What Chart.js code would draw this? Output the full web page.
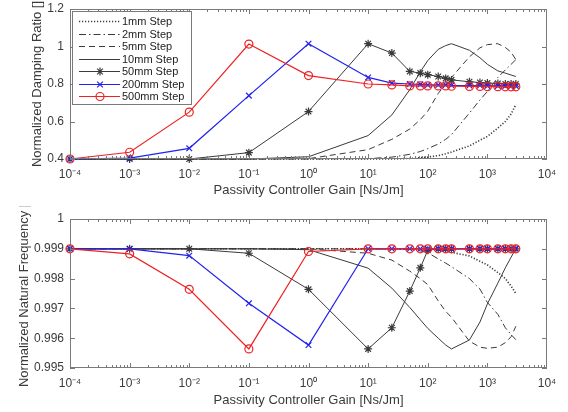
<!DOCTYPE html>
<html>
<head>
<meta charset="utf-8">
<script src="https://cdn.jsdelivr.net/npm/chart.js@4.4.1/dist/chart.umd.min.js"></script>
<style>
  html, body { margin: 0; padding: 0; background: #fff; }
  canvas { display: block; }
</style>
</head>
<body>
<canvas id="dampingChart" width="568" height="206"></canvas>
<canvas id="freqChart" width="568" height="206"></canvas>
<script>
// Controller gain sweep shared by every step size
const gains = [1e-4, 1e-3, 1e-2, 1e-1, 1, 10, 25, 50, 75, 100, 150, 200, 250, 500, 750, 1000, 1500, 2000, 2500, 3000];

const seriesNames = ['1mm Step', '2mm Step', '5mm Step', '10mm Step', '50mm Step', '200mm Step', '500mm Step'];

// Normalized damping ratio per step size
const damp1mm   = [0.40, 0.40, 0.40, 0.40, 0.40, 0.40, 0.40, 0.403, 0.407, 0.41, 0.418, 0.428, 0.437, 0.47, 0.50, 0.52, 0.565, 0.60, 0.64, 0.69];
const damp2mm   = [0.40, 0.40, 0.40, 0.40, 0.40, 0.402, 0.41, 0.425, 0.44, 0.455, 0.48, 0.505, 0.53, 0.645, 0.715, 0.76, 0.835, 0.875, 0.905, 0.93];
const damp5mm   = [0.40, 0.40, 0.40, 0.40, 0.402, 0.45, 0.505, 0.56, 0.61, 0.655, 0.75, 0.80, 0.835, 0.945, 0.993, 1.01, 1.015, 0.995, 0.97, 0.93];
const damp10mm  = [0.40, 0.40, 0.40, 0.40, 0.412, 0.525, 0.635, 0.77, 0.865, 0.925, 0.985, 1.005, 1.015, 0.98, 0.94, 0.905, 0.87, 0.858, 0.848, 0.84];
const damp50mm  = [0.40, 0.40, 0.40, 0.434, 0.653, 1.015, 0.965, 0.867, 0.858, 0.85, 0.84, 0.83, 0.822, 0.812, 0.808, 0.805, 0.803, 0.80, 0.80, 0.80];
const damp200mm = [0.40, 0.405, 0.457, 0.738, 1.015, 0.835, 0.805, 0.80, 0.798, 0.795, 0.795, 0.795, 0.793, 0.792, 0.792, 0.79, 0.79, 0.79, 0.79, 0.79];
const damp500mm = [0.40, 0.436, 0.65, 1.013, 0.845, 0.80, 0.795, 0.79, 0.79, 0.79, 0.79, 0.79, 0.788, 0.787, 0.787, 0.786, 0.786, 0.785, 0.785, 0.785];

// Normalized natural frequency per step size
const freq1mm   = [0.999, 0.999, 0.999, 0.999, 0.999, 0.999, 0.999, 0.999, 0.999, 0.999, 0.99898, 0.99893, 0.99888, 0.99876, 0.99858, 0.99846, 0.9982, 0.998, 0.99775, 0.9975];
const freq2mm   = [0.999, 0.999, 0.999, 0.999, 0.999, 0.999, 0.999, 0.99898, 0.99893, 0.99887, 0.99866, 0.99852, 0.9984, 0.998, 0.99765, 0.9972, 0.9968, 0.99635, 0.99612, 0.99595];
const freq5mm   = [0.999, 0.999, 0.999, 0.999, 0.999, 0.99885, 0.99862, 0.99825, 0.998, 0.9978, 0.99725, 0.9969, 0.9967, 0.9959, 0.9957, 0.99566, 0.9957, 0.99585, 0.99605, 0.9964];
const freq10mm  = [0.999, 0.999, 0.999, 0.999, 0.99897, 0.99835, 0.99768, 0.99703, 0.99662, 0.99633, 0.996, 0.99577, 0.99564, 0.99594, 0.99654, 0.99715, 0.99785, 0.99836, 0.99872, 0.999];
const freq50mm  = [0.999, 0.999, 0.999, 0.99885, 0.99764, 0.99564, 0.99635, 0.99758, 0.99836, 0.99895, 0.999, 0.999, 0.999, 0.999, 0.999, 0.999, 0.999, 0.999, 0.999, 0.999];
const freq200mm = [0.999, 0.999, 0.99877, 0.99717, 0.99577, 0.999, 0.999, 0.999, 0.999, 0.999, 0.999, 0.999, 0.999, 0.999, 0.999, 0.999, 0.999, 0.999, 0.999, 0.999];
const freq500mm = [0.999, 0.99883, 0.99764, 0.99564, 0.99891, 0.999, 0.999, 0.999, 0.999, 0.999, 0.999, 0.999, 0.999, 0.999, 0.999, 0.999, 0.999, 0.999, 0.999, 0.999];

// Axis ticks
const xTicks = [1e-4, 1e-3, 1e-2, 1e-1, 1, 10, 100, 1000, 10000];
const xTickLabels = ['10⁻⁴', '10⁻³', '10⁻²', '10⁻¹', '10⁰', '10¹', '10²', '10³', '10⁴'];
const dampTicks = [0.4, 0.6, 0.8, 1, 1.2];
const dampTickLabels = ['0.4', '0.6', '0.8', '1', '1.2'];
const freqTicks = [0.995, 0.996, 0.997, 0.998, 0.999, 1];
const freqTickLabels = ['0.995', '0.996', '0.997', '0.998', '0.999', '1'];

Chart.defaults.font.family = '"Liberation Sans", Arial, Helvetica, sans-serif';
Chart.defaults.color = '#3a3a3a';

const INK = '#3a3a3a';
const RED = '#ee2222';
const BLUE = '#2222ee';

// Line styles: dotted, dash-dot, dashed, solid, then marker lines
const seriesStyles = [
  { color: INK, width: 1.6, dash: [1.2, 1.8], point: false, radius: 0 },
  { color: INK, width: 1, dash: [7, 3, 1.5, 3], point: false, radius: 0 },
  { color: INK, width: 1, dash: [6, 4], point: false, radius: 0 },
  { color: INK, width: 1, dash: [], point: false, radius: 0 },
  { color: INK, width: 1, dash: [], point: 'star', radius: 4 },
  { color: BLUE, width: 1.2, dash: [], point: 'crossRot', radius: 4 },
  { color: RED, width: 1.2, dash: [], point: 'circle', radius: 4 }
];

function buildDatasets(seriesValues) {
  return seriesValues.map((vals, i) => {
    const st = seriesStyles[i];
    return {
      label: seriesNames[i],
      data: gains.map((g, j) => ({ x: g, y: vals[j] })),
      borderColor: st.color,
      borderWidth: st.width,
      borderDash: st.dash,
      pointStyle: st.point || 'circle',
      pointRadius: st.radius,
      pointBorderColor: st.color,
      pointBackgroundColor: 'rgba(0,0,0,0)',
      pointBorderWidth: 1.2,
      fill: false,
      tension: 0,
      clip: false,
      order: seriesValues.length - 1 - i
    };
  });
}

// Box around the plot with inward ticks, log minor ticks on x
const framePlugin = {
  id: 'frame',
  afterDraw(chart) {
    const { ctx, chartArea: a, scales } = chart;
    const xs = scales.x, ys = scales.y;
    ctx.save();
    ctx.strokeStyle = '#7a7a7a';
    ctx.lineWidth = 1;
    ctx.strokeRect(Math.round(a.left) + 0.5, Math.round(a.top) + 0.5,
      Math.round(a.right - a.left) - 1, Math.round(a.bottom - a.top) - 1);
    ctx.beginPath();
    for (let e = -4; e <= 3; e++) {
      for (let m = 1; m <= 9; m++) {
        const px = Math.round(xs.getPixelForValue(m * Math.pow(10, e))) + 0.5;
        const len = m === 1 ? 5 : 3;
        ctx.moveTo(px, a.bottom); ctx.lineTo(px, a.bottom - len);
        ctx.moveTo(px, a.top); ctx.lineTo(px, a.top + len);
      }
    }
    ys.ticks.forEach(t => {
      const py = Math.round(ys.getPixelForValue(t.value)) + 0.5;
      ctx.moveTo(a.left, py); ctx.lineTo(a.left + 5, py);
      ctx.moveTo(a.right, py); ctx.lineTo(a.right - 5, py);
    });
    ctx.stroke();
    ctx.restore();
  }
};

// Legend box in the upper left corner of the damping plot
const legendBoxPlugin = {
  id: 'legendBox',
  afterDraw(chart) {
    const { ctx } = chart;
    const box = { x: 72, y: 11, w: 119, h: 93 };
    ctx.save();
    ctx.fillStyle = '#fff';
    ctx.fillRect(box.x, box.y, box.w, box.h);
    ctx.strokeStyle = '#7a7a7a';
    ctx.lineWidth = 1;
    ctx.strokeRect(box.x + 0.5, box.y + 0.5, box.w, box.h);
    chart.data.datasets.forEach((ds, i) => {
      const st = seriesStyles[i];
      const y = Math.round(box.y + 10 + i * 12.5) + 0.5;
      ctx.strokeStyle = st.color;
      ctx.lineWidth = st.width;
      ctx.setLineDash(st.dash);
      ctx.beginPath();
      ctx.moveTo(79, y);
      ctx.lineTo(120, y);
      ctx.stroke();
      ctx.setLineDash([]);
      if (st.point) {
        ctx.fillStyle = 'rgba(0,0,0,0)';
        ctx.lineWidth = 1.2;
        Chart.helpers.drawPoint(ctx, { pointStyle: st.point, radius: st.radius, rotation: 0, borderWidth: 1.2 }, 100, y);
      }
      ctx.fillStyle = '#222';
      ctx.font = '11px "Liberation Sans", Arial, sans-serif';
      ctx.textBaseline = 'middle';
      ctx.textAlign = 'left';
      ctx.fillText(ds.label, 122, y);
    });
    ctx.restore();
  }
};

function makeChart(canvasId, datasets, opts) {
  return new Chart(document.getElementById(canvasId), {
    type: 'line',
    data: { datasets },
    options: {
      responsive: false,
      animation: false,
      devicePixelRatio: 1,
      layout: { padding: { left: 0, right: 21, top: opts.top, bottom: 0 } },
      plugins: { legend: { display: false }, tooltip: { enabled: false } },
      scales: {
        x: {
          type: 'logarithmic',
          min: 1e-4,
          max: 1e4,
          grid: { display: false, drawTicks: false },
          border: { display: false },
          afterBuildTicks: s => { s.ticks = xTicks.map(v => ({ value: v })); },
          afterFit: s => {
            s.height = opts.xHeight;
            s.paddingLeft = 0;
            s.paddingRight = 0;
          },
          ticks: {
            autoSkip: false,
            maxRotation: 0,
            padding: 8,
            color: '#3a3a3a',
            font: { size: 12 },
            callback: (v, i) => xTickLabels[i]
          },
          title: {
            display: true,
            text: 'Passivity Controller Gain [Ns/Jm]',
            color: '#3a3a3a',
            font: { size: 13 },
            padding: { top: 0, bottom: opts.xTitlePad }
          }
        },
        y: {
          type: 'linear',
          min: opts.yTicks[0],
          max: opts.yTicks[opts.yTicks.length - 1],
          grid: { display: false, drawTicks: false },
          border: { display: false },
          afterBuildTicks: s => { s.ticks = opts.yTicks.map(v => ({ value: v })); },
          afterFit: s => {
            s.width = 70;
            s.paddingTop = 0;
            s.paddingBottom = 0;
          },
          ticks: {
            padding: 6,
            color: '#3a3a3a',
            font: { size: 12 },
            callback: (v, i) => opts.yLabels[i]
          },
          title: {
            display: true,
            text: opts.yTitle,
            color: '#3a3a3a',
            font: { size: 13 },
            padding: { top: opts.yTitlePad, bottom: 0 }
          }
        }
      }
    },
    plugins: opts.plugins
  });
}

makeChart('dampingChart',
  buildDatasets([damp1mm, damp2mm, damp5mm, damp10mm, damp50mm, damp200mm, damp500mm]), {
    top: 9, xHeight: 47, xTitlePad: 8, yTitlePad: 30,
    yTicks: dampTicks, yLabels: dampTickLabels,
    yTitle: 'Normalized Damping Ratio []',
    plugins: [framePlugin, legendBoxPlugin]
  });

makeChart('freqChart',
  buildDatasets([freq1mm, freq2mm, freq5mm, freq10mm, freq50mm, freq200mm, freq500mm]), {
    top: 13, xHeight: 44, xTitlePad: 4, yTitlePad: 17,
    yTicks: freqTicks, yLabels: freqTickLabels,
    yTitle: 'Normalized Natural Frequency []',
    plugins: [framePlugin]
  });
</script>
</body>
</html>
